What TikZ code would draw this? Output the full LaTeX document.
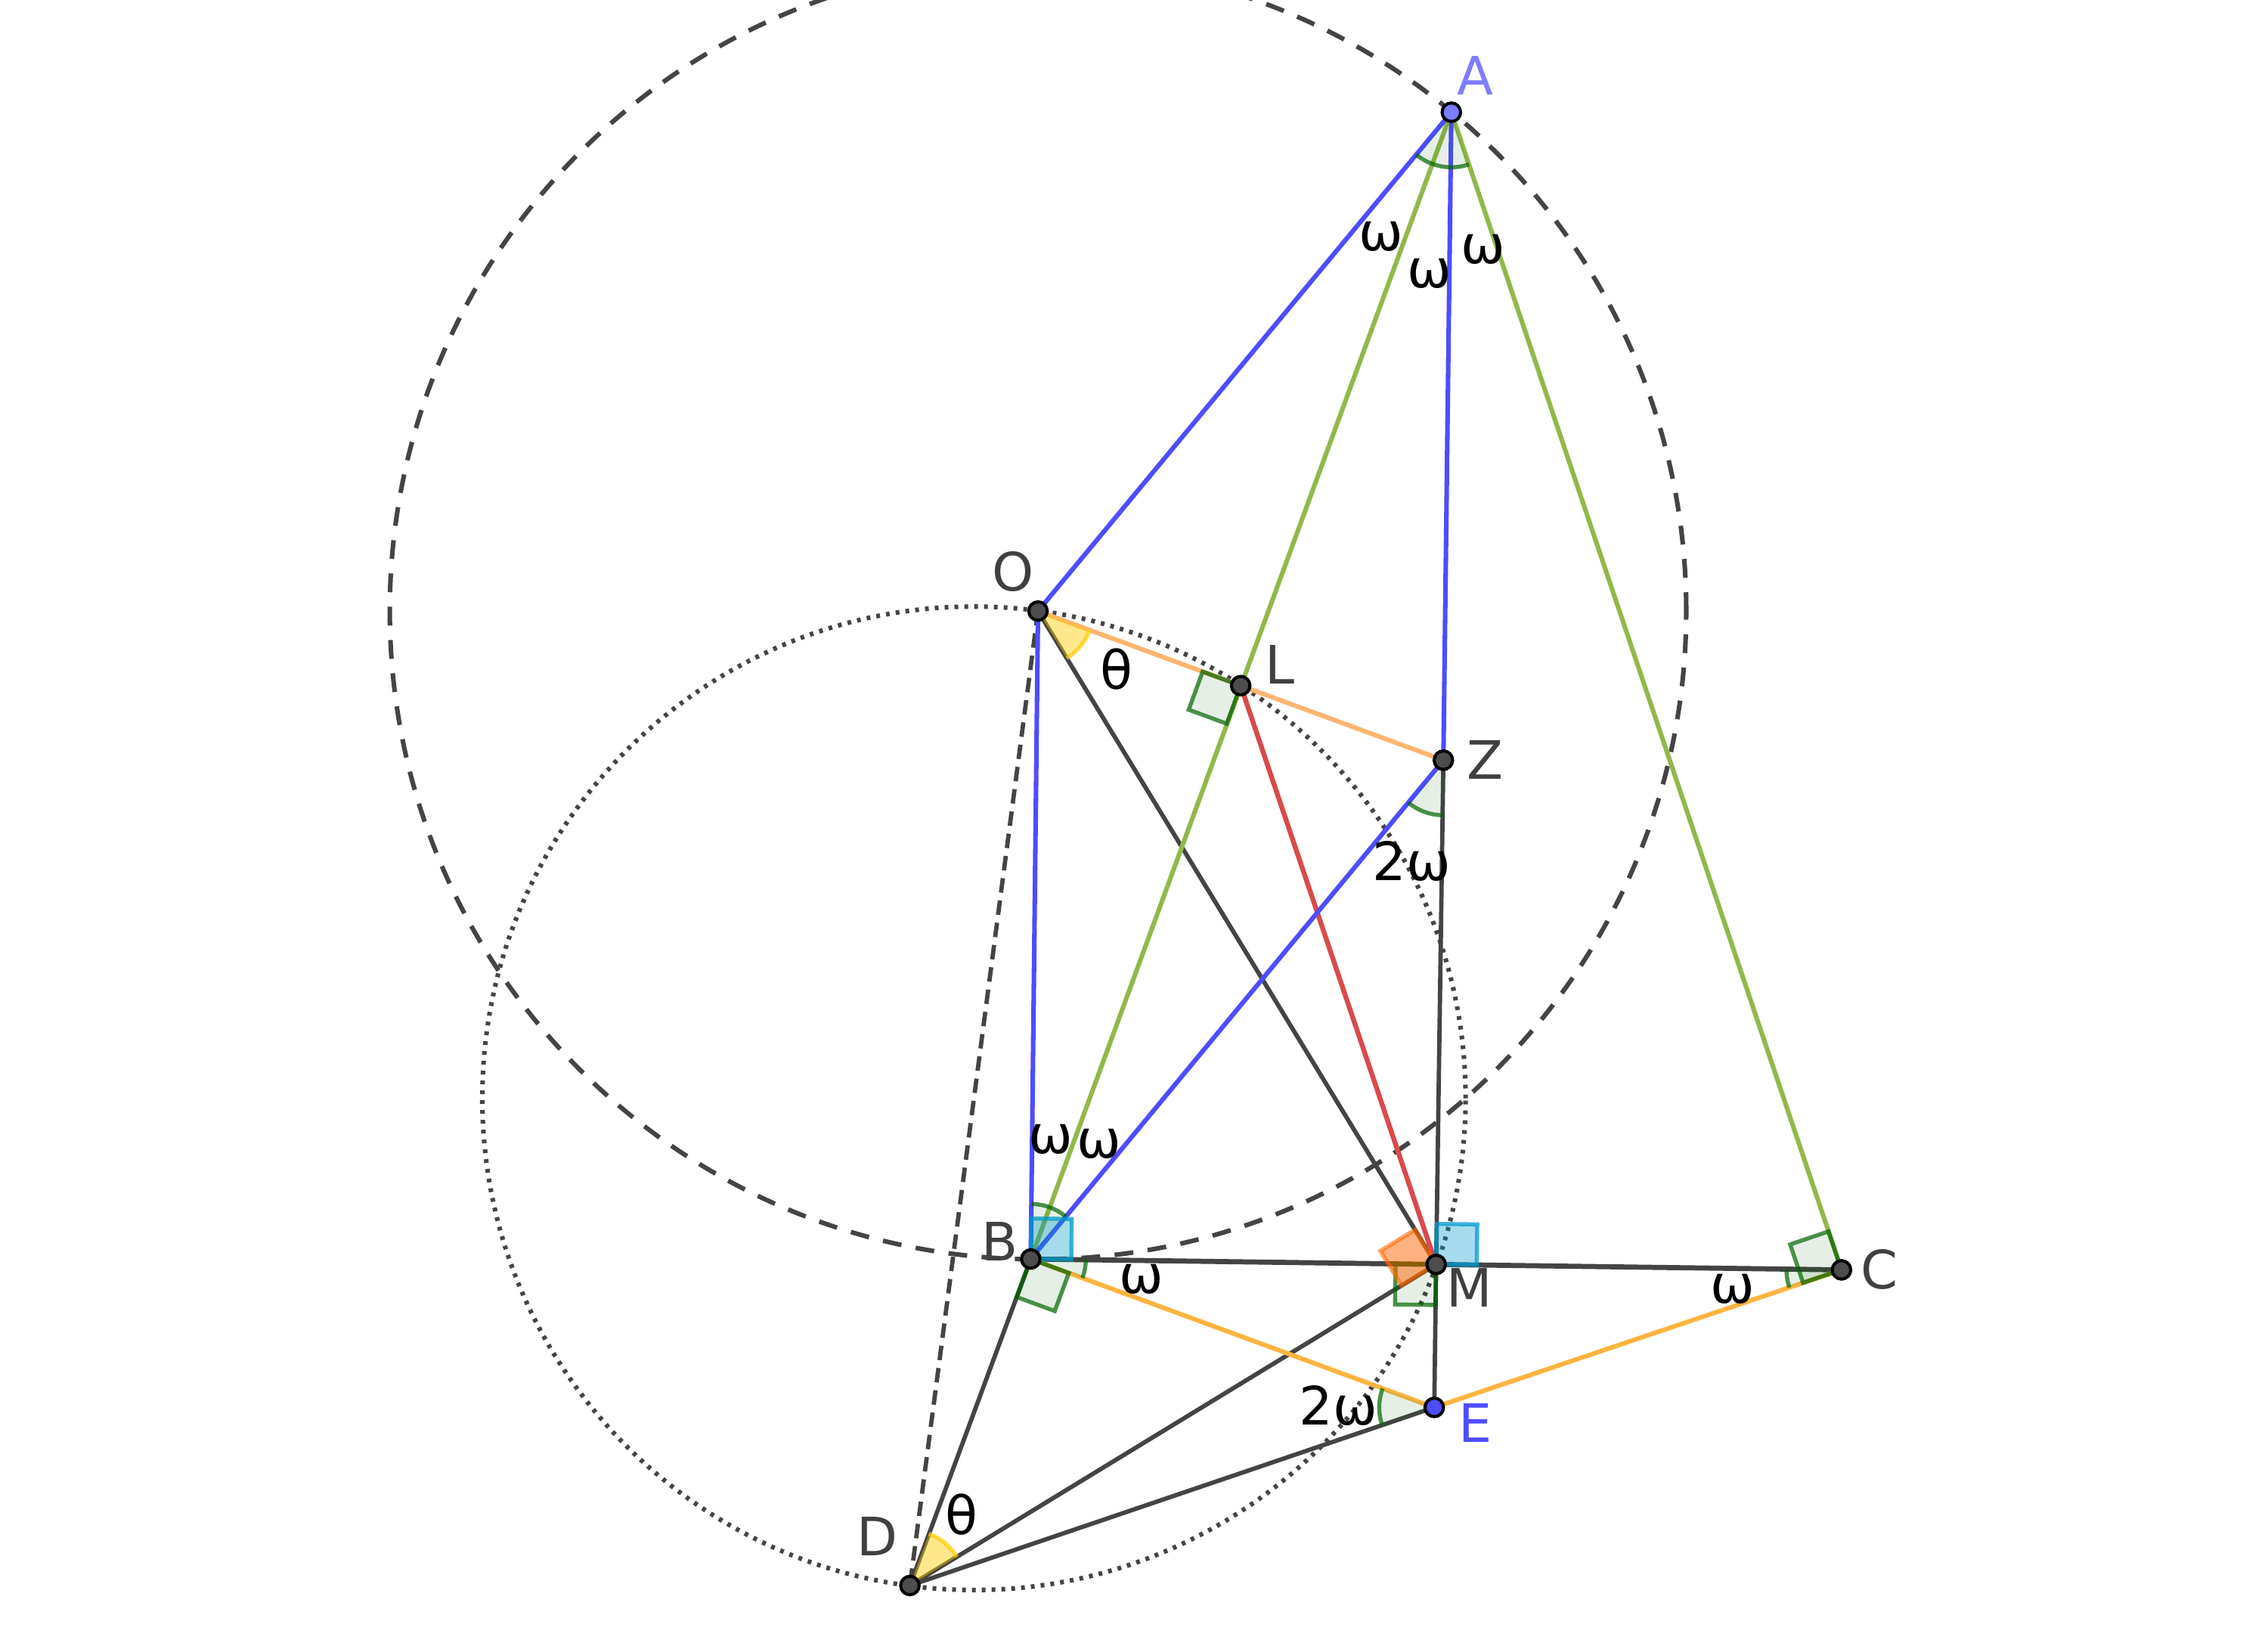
\documentclass[tikz,border=0pt]{standalone}
\usepackage{fontspec}
\setmainfont{DejaVu Sans}
\usetikzlibrary{calc,angles}
\definecolor{cblue}{RGB}{77,77,255}
\definecolor{cgreen}{RGB}{146,184,74}
\definecolor{corgL}{RGB}{255,181,112}
\definecolor{corg}{RGB}{255,180,64}
\definecolor{cred}{RGB}{218,74,74}
\definecolor{cdark}{RGB}{68,68,68}
\definecolor{cang}{RGB}{0,100,0}
\definecolor{cbsq}{RGB}{0,153,204}
\definecolor{cosq}{RGB}{255,102,0}
\definecolor{cysq}{RGB}{255,204,0}
\definecolor{cpt}{RGB}{77,77,77}
\definecolor{cA}{RGB}{125,125,255}
\definecolor{clbl}{RGB}{64,64,64}
\newcommand\rtsq[4]{%
  \coordinate (sqa) at ($(#2)!0.28cm!(#1)$);
  \coordinate (sqb) at ($(#2)!0.28cm!(#3)$);
  \path[#4] (#2) -- (sqa) -- ($(sqa)+(sqb)-(#2)$) -- (sqb) -- cycle;}
\begin{document}
\begin{tikzpicture}[x=0.01cm,y=-0.01cm,
  font=\fontsize{10.4}{12}\selectfont,
  lw/.style={line width=0.9pt},
  bl/.style={lw, draw=cblue},
  gr/.style={lw, draw=cgreen},
  orl/.style={line width=0.9pt, draw=corgL},
  org/.style={line width=0.9pt, draw=corg},
  rd/.style={line width=0.95pt, draw=cred},
  dk/.style={line width=0.85pt, draw=cdark},
  gsq/.style={draw=cang, draw opacity=0.7, fill=cang, fill opacity=0.1, line width=0.8pt},
  bsq/.style={draw=cbsq, draw opacity=0.75, fill=cbsq, fill opacity=0.35, line width=0.8pt},
  osq/.style={draw=cosq, draw opacity=0.6, fill=cosq, fill opacity=0.5, line width=0.8pt},
  gang/.style={draw=cang, draw opacity=0.7, fill=cang, fill opacity=0.1, line width=0.8pt, angle radius=0.38cm},
  yang/.style={draw=cysq, draw opacity=0.7, fill=cysq, fill opacity=0.45, line width=0.8pt, angle radius=0.38cm},
  pt/.style={circle, fill=cpt, draw=black, line width=0.6pt, inner sep=0pt, minimum size=0.128cm},
  lbl/.style={text=clbl, inner sep=0pt},
  gk/.style={text=black, inner sep=0pt}]
\useasboundingbox (0,0) rectangle (1566.6,1132.6);
% geometry
\coordinate (A) at (1002.5,77.5);
\coordinate (O) at (717,422);
\coordinate (Z) at (997,525);
\coordinate (L) at ($(O)!0.5!(Z)$);
\coordinate (B) at (712,869.5);
\coordinate (C) at (1272,877);
\coordinate (M) at ($(B)!0.5!(C)$);
\coordinate (E) at (990.7,972);
\coordinate (D) at (628.5,1095);
\coordinate (K) at ($(O)!0.5!(D)$);
% circles
\draw[draw=cdark, line width=0.9pt, dash pattern=on 0.13cm off 0.1cm] (O) circle[radius=4.475cm];
\draw[draw=cdark, line width=0.9pt, dash pattern=on 0.026cm off 0.042cm] (K) circle[radius=3.394cm];
\draw[draw=cdark, line width=0.85pt, dash pattern=on 0.1cm off 0.055cm] (O) -- (D);
% lines
\draw[dk] (O) -- (M);
\draw[dk] (Z) -- (M);
\draw[dk] (M) -- (E);
\draw[dk, line width=1pt] (B) -- (C);
\draw[dk] (B) -- (D);
\draw[dk] (D) -- (M);
\draw[dk] (D) -- (E);
\draw[gr] (A) -- (B);
\draw[gr] (A) -- (C);
\draw[orl] (O) -- (L);
\draw[orl] (L) -- (Z);
\draw[org] (B) -- (E);
\draw[org] (E) -- (C);
\draw[rd] (L) -- (M);
\draw[bl] (A) -- (O);
\draw[bl] (O) -- (B);
\draw[bl] (A) -- (Z);
\draw[bl] (B) -- (Z);
% angle marks
\pic[gang] {angle=O--A--C};
\pic[gang] {angle=Z--B--O};
\pic[gang] {angle=E--B--C};
\pic[gang] {angle=B--C--E};
\pic[gang] {angle=B--Z--M};
\pic[gang] {angle=B--E--D};
\pic[yang] {angle=M--O--L};
\pic[yang] {angle=M--D--B};
\rtsq{O}{L}{B}{gsq}
\rtsq{D}{B}{E}{gsq}
\rtsq{C}{B}{O}{bsq}
\rtsq{C}{M}{Z}{bsq}
\rtsq{B}{M}{E}{gsq}
\rtsq{O}{M}{D}{osq}
\rtsq{A}{C}{E}{gsq}
% points
\node[pt, fill=cA] (pA) at (A) {};
\node[pt] (pO) at (O) {};
\node[pt] (pL) at (L) {};
\node[pt] (pZ) at (Z) {};
\node[pt] (pB) at (B) {};
\node[pt] (pM) at (M) {};
\node[pt] (pC) at (C) {};
\node[pt, fill=cblue] (pE) at (E) {};
\node[pt] (pD) at (D) {};
% point labels
\node[lbl, text=cA] (lA) at (1019.3,52.2) {A};
\node[lbl] (lO) at (700,395) {O};
\node[lbl] (lL) at (884,459) {L};
\node[lbl] (lZ) at (1026,525) {Z};
\node[lbl] (lB) at (690.5,857.5) {B};
\node[lbl] (lM) at (1015,889.5) {M};
\node[lbl] (lC) at (1298,877) {C};
\node[lbl, text=cblue] (lE) at (1019,983) {E};
\node[lbl] (lD) at (606,1061) {D};
% angle labels
\node[gk] (w1) at (954,163.5) {ω};
\node[gk] (w2) at (987.5,189) {ω};
\node[gk] (w3) at (1024.5,172.4) {ω};
\node[gk] (t1) at (771,462) {θ};
\node[gk] (w4) at (975,595) {2ω};
\node[gk] (w5) at (725.5,787) {ω};
\node[gk] (w6) at (759,790) {ω};
\node[gk] (w7) at (788.5,883.5) {ω};
\node[gk] (w8) at (1197,890) {ω};
\node[gk] (w9) at (924.5,971) {2ω};
\node[gk] (t2) at (664,1046) {θ};
\end{tikzpicture}
\end{document}
